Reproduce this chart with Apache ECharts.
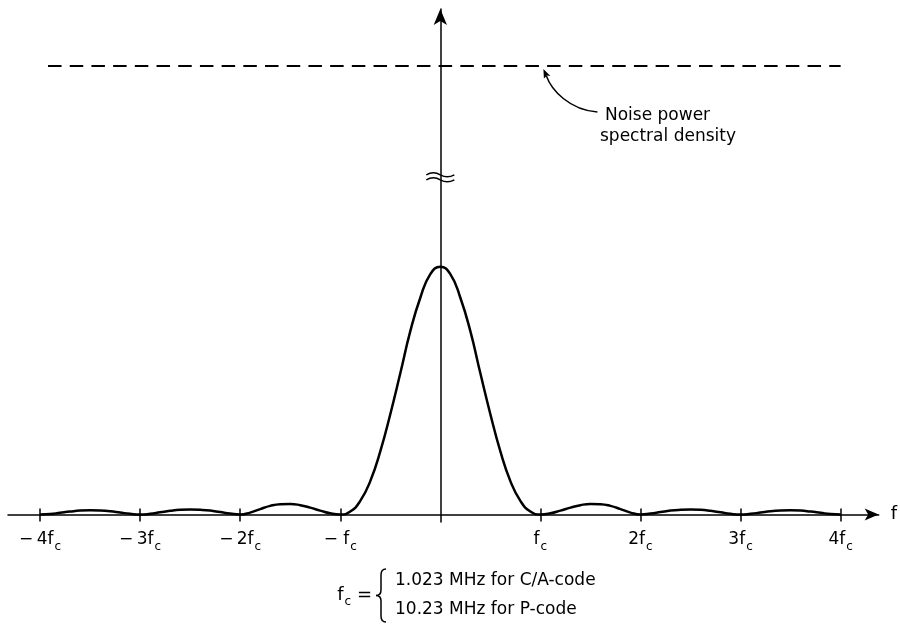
<!DOCTYPE html>
<html>
<head>
<meta charset="utf-8">
<script src="https://cdn.jsdelivr.net/npm/echarts@6/dist/echarts.min.js"></script>
<style>
  html, body { margin: 0; background: #fff; }
  #chart { width: 900px; height: 625px; }
</style>
</head>
<body>
<div id="chart"></div>
<script>
// frequency in units of fc
const freq = [
  -4.0, -3.9, -3.8, -3.7, -3.6, -3.5, -3.4, -3.3, -3.2, -3.1,
  -3.0, -2.9, -2.8, -2.7, -2.6, -2.5, -2.4, -2.3, -2.2, -2.1,
  -2.0, -1.9, -1.8, -1.7, -1.6, -1.5, -1.4, -1.3, -1.2, -1.1,
  -1.0, -0.9, -0.8, -0.7, -0.6, -0.5, -0.4, -0.3, -0.2, -0.1,
  0.0, 0.1, 0.2, 0.3, 0.4, 0.5, 0.6, 0.7, 0.8, 0.9,
  1.0, 1.1, 1.2, 1.3, 1.4, 1.5, 1.6, 1.7, 1.8, 1.9,
  2.0, 2.1, 2.2, 2.3, 2.4, 2.5, 2.6, 2.7, 2.8, 2.9,
  3.0, 3.1, 3.2, 3.3, 3.4, 3.5, 3.6, 3.7, 3.8, 3.9,
  4.0
];
// signal power spectral density, peak = 1
const psd = [
  0, 0.002, 0.007, 0.012, 0.016, 0.017, 0.016, 0.013, 0.008, 0.003,
  0, 0.003, 0.009, 0.015, 0.019, 0.020, 0.019, 0.016, 0.010, 0.004,
  0, 0.008, 0.022, 0.035, 0.042, 0.043, 0.038, 0.028, 0.016, 0.005,
  0, 0.012, 0.055, 0.135, 0.255, 0.405, 0.57, 0.74, 0.875, 0.97,
  1.0, 0.97, 0.875, 0.74, 0.57, 0.405, 0.255, 0.135, 0.055, 0.012,
  0, 0.005, 0.016, 0.028, 0.038, 0.043, 0.042, 0.035, 0.022, 0.008,
  0, 0.004, 0.010, 0.016, 0.019, 0.020, 0.019, 0.015, 0.009, 0.003,
  0, 0.003, 0.008, 0.013, 0.016, 0.017, 0.016, 0.012, 0.007, 0.002,
  0
];
const tickValues = [-4, -3, -2, -1, 1, 2, 3, 4];
const tickPrefix = ['\u2212\u20094', '\u2212\u20093', '\u2212\u20092', '\u2212 ', '', '2', '3', '4'];
const noiseLevel = 1.81;
const noiseStart = -3.92;
const noiseEnd = 4.0;
const breakLevel = 1.363;
const noteLines = ['Noise power', 'spectral density'];
const fcLines = ['1.023 MHz for C/A-code', '10.23 MHz for P-code'];

const font = 'DejaVu Sans';
const black = '#000';
const rich = {
  n: { fontSize: 17, fontFamily: font, color: black },
  s: { fontSize: 12, fontFamily: font, color: black, padding: [15, 0, 0, 1] }
};
const axisLineStyle = { color: black, width: 1.5 };

const chart = echarts.init(document.getElementById('chart'));

chart.setOption({
  animation: false,
  grid: { left: 8, right: 20, top: 9, bottom: 103 },
  xAxis: [{
    type: 'value', min: -4.32, max: 4.38, position: 'bottom',
    axisLine: { onZero: true, lineStyle: axisLineStyle, symbol: ['none', 'arrow'], symbolSize: [9, 14] },
    axisTick: { customValues: tickValues, length: 7, lineStyle: axisLineStyle },
    axisLabel: {
      customValues: tickValues, margin: 4, rich: rich,
      formatter: v => {
        const i = tickValues.indexOf(Math.round(v));
        return i < 0 ? '' : '{n|' + tickPrefix[i] + 'f}{s|c}';
      }
    },
    splitLine: { show: false },
    name: 'f', nameLocation: 'end', nameGap: 12,
    nameTextStyle: { fontSize: 18, fontFamily: font, color: black }
  }, {
    // upper half of the crossing ticks
    type: 'value', min: -4.32, max: 4.38, position: 'top',
    axisLine: { onZero: true, onZeroAxisIndex: 0, lineStyle: { color: black, opacity: 0 } },
    axisTick: { customValues: tickValues, length: 6, lineStyle: axisLineStyle },
    axisLabel: { show: false },
    splitLine: { show: false }
  }],
  yAxis: {
    type: 'value', min: -0.03, max: 2.04,
    axisLine: { onZero: true, lineStyle: axisLineStyle, symbol: ['none', 'arrow'], symbolSize: [10, 16] },
    axisTick: { show: false },
    axisLabel: { show: false },
    splitLine: { show: false }
  },
  series: [{
    type: 'line',
    data: freq.map((f, i) => [f, psd[i]]),
    showSymbol: false,
    smooth: 0.5,
    lineStyle: { color: black, width: 2.5 },
    markLine: {
      silent: true,
      symbol: ['none', 'none'],
      label: { show: false },
      lineStyle: { color: black, width: 2, type: [13.5, 8.2] },
      data: [[{ coord: [noiseStart, noiseLevel] }, { coord: [noiseEnd, noiseLevel] }]]
    }
  }]
});

// annotations
const brk = chart.convertToPixel({ xAxisIndex: 0, yAxisIndex: 0 }, [0, breakLevel]);
const tip = chart.convertToPixel({ xAxisIndex: 0, yAxisIndex: 0 }, [1.03, noiseLevel]);
const tx = tip[0], ty = tip[1] + 3;
const stroke = { stroke: black, lineWidth: 1.5, fill: null };
const textStyle = { fontSize: 17, fontFamily: font, fill: black };

chart.setOption({
  graphic: [
    {
      type: 'group', x: brk[0], y: brk[1],
      children: [
        { type: 'bezierCurve', shape: { x1: -14, y1: -2, x2: 0, y2: -2, cpx1: -7, cpy1: -6 }, style: stroke },
        { type: 'bezierCurve', shape: { x1: 0, y1: -2, x2: 14, y2: -2, cpx1: 7, cpy1: 2 }, style: stroke },
        { type: 'bezierCurve', shape: { x1: -14, y1: 3, x2: 0, y2: 3, cpx1: -7, cpy1: -1 }, style: stroke },
        { type: 'bezierCurve', shape: { x1: 0, y1: 3, x2: 14, y2: 3, cpx1: 7, cpy1: 7 }, style: stroke }
      ]
    },
    {
      type: 'bezierCurve',
      shape: { x1: tx + 54, y1: ty + 43, x2: tx + 3, y2: ty + 7, cpx1: tx + 26, cpy1: ty + 41, cpx2: tx + 8, cpy2: ty + 21 },
      style: stroke
    },
    {
      type: 'polygon',
      shape: { points: [[tx, ty], [tx + 7, ty + 7], [tx + 3.5, ty + 6.5], [tx + 0.5, ty + 9.5]] },
      style: { fill: black }
    },
    { type: 'text', x: 605, y: 107, style: Object.assign({ text: noteLines[0] }, textStyle) },
    { type: 'text', x: 600, y: 128, style: Object.assign({ text: noteLines[1] }, textStyle) },
    {
      type: 'text', x: 372, y: 595,
      style: {
        text: '{n|f}{s|c}{n| =}', align: 'right', verticalAlign: 'middle',
        rich: { n: { fontSize: 18, fontFamily: font, fill: black }, s: { fontSize: 12, fontFamily: font, fill: black, padding: [14, 0, 0, 1] } }
      }
    },
    {
      type: 'group',
      children: [
        { type: 'bezierCurve', shape: { x1: 386, y1: 569, x2: 381, y2: 575, cpx1: 381, cpy1: 569 }, style: stroke },
        { type: 'line', shape: { x1: 381, y1: 575, x2: 381, y2: 590 }, style: stroke },
        { type: 'bezierCurve', shape: { x1: 381, y1: 590, x2: 376, y2: 595.5, cpx1: 381, cpy1: 595.5 }, style: stroke },
        { type: 'bezierCurve', shape: { x1: 376, y1: 595.5, x2: 381, y2: 601, cpx1: 381, cpy1: 595.5 }, style: stroke },
        { type: 'line', shape: { x1: 381, y1: 601, x2: 381, y2: 616 }, style: stroke },
        { type: 'bezierCurve', shape: { x1: 381, y1: 616, x2: 386, y2: 622, cpx1: 381, cpy1: 622 }, style: stroke }
      ]
    },
    { type: 'text', x: 395, y: 581, style: Object.assign({ text: fcLines[0], verticalAlign: 'middle' }, textStyle) },
    { type: 'text', x: 395, y: 610, style: Object.assign({ text: fcLines[1], verticalAlign: 'middle' }, textStyle) }
  ]
});

window.addEventListener('resize', () => chart.resize());
</script>
</body>
</html>
